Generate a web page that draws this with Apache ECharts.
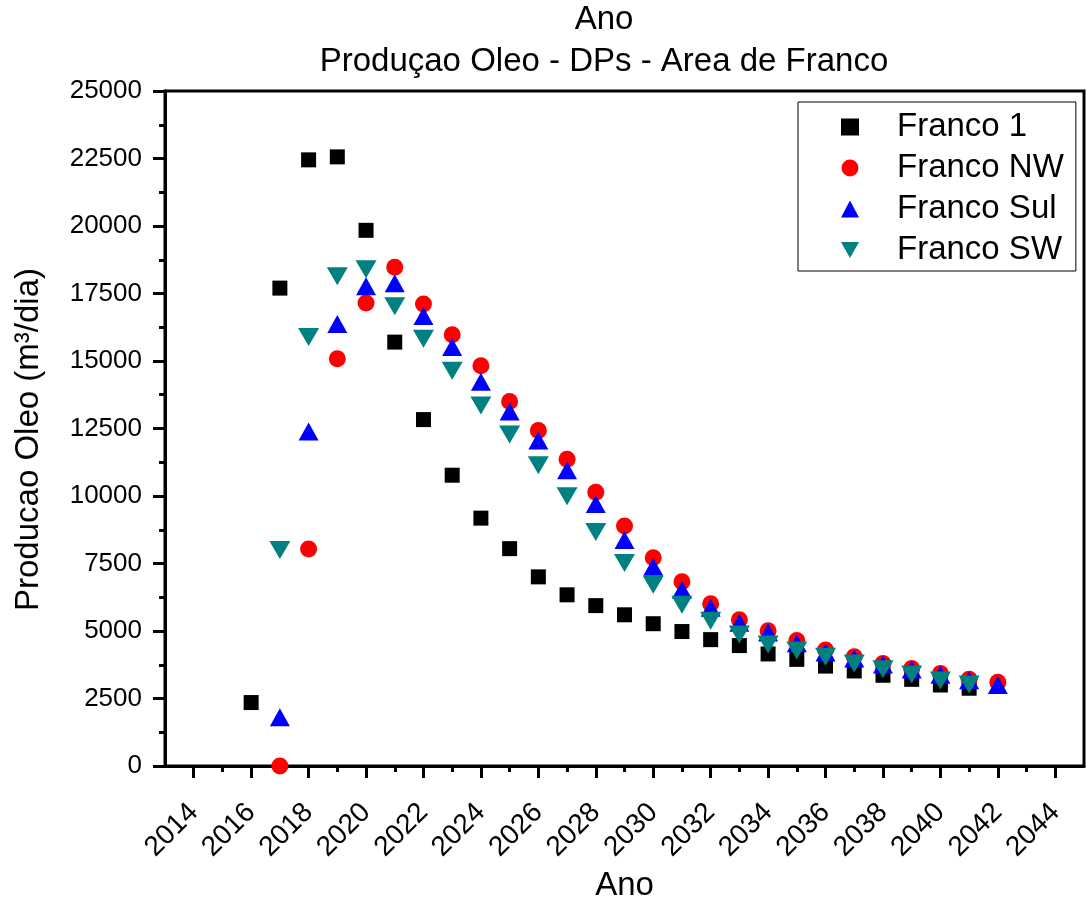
<!DOCTYPE html>
<html>
<head>
<meta charset="utf-8">
<script src="https://cdn.jsdelivr.net/npm/echarts@6/dist/echarts.min.js"></script>
<style>
  html, body { margin: 0; padding: 0; background: #fff; }
  #chart { width: 1086px; height: 907px; }
</style>
</head>
<body>
<div id="chart"></div>
<script>
// Oil production forecast per field (m³/dia)
const yearsFranco1 = [2016, 2017, 2018, 2019, 2020, 2021, 2022, 2023, 2024, 2025, 2026, 2027, 2028,
  2029, 2030, 2031, 2032, 2033, 2034, 2035, 2036, 2037, 2038, 2039, 2040, 2041];
const franco1 = [2350, 17700, 22450, 22560, 19840, 15700, 12830, 10770, 9180, 8050, 7005, 6340, 5940,
  5600, 5270, 4980, 4680, 4460, 4150, 3950, 3700, 3520, 3360, 3210, 3000, 2880];

const yearsNW = [2017, 2018, 2019, 2020, 2021, 2022, 2023, 2024, 2025, 2026, 2027, 2028, 2029,
  2030, 2031, 2032, 2033, 2034, 2035, 2036, 2037, 2038, 2039, 2040, 2041, 2042];
const francoNW = [0, 8040, 15080, 17150, 18470, 17110, 15970, 14820, 13500, 12430, 11360, 10140, 8890,
  7710, 6820, 6010, 5420, 5010, 4650, 4300, 4050, 3800, 3610, 3430, 3210, 3100];

const yearsSul = [2017, 2018, 2019, 2020, 2021, 2022, 2023, 2024, 2025, 2026, 2027, 2028, 2029,
  2030, 2031, 2032, 2033, 2034, 2035, 2036, 2037, 2038, 2039, 2040, 2041, 2042];
const francoSul = [1810, 12390, 16370, 17770, 17880, 16670, 15520, 14230, 13130, 12060, 10950, 9700, 8370,
  7380, 6530, 5860, 5310, 4940, 4550, 4200, 3980, 3760, 3570, 3380, 3180, 3000];

const yearsSW = [2017, 2018, 2019, 2020, 2021, 2022, 2023, 2024, 2025, 2026, 2027, 2028, 2029,
  2030, 2031, 2032, 2033, 2034, 2035, 2036, 2037, 2038, 2039, 2040, 2041];
const francoSW = [8000, 15890, 18140, 18400, 17030, 15820, 14640, 13350, 12280, 11140, 9990, 8670, 7520,
  6710, 5970, 5380, 4870, 4500, 4280, 4050, 3800, 3580, 3390, 3170, 3020];

const majorYearTicks = [2014, 2016, 2018, 2020, 2022, 2024, 2026, 2028, 2030, 2032, 2034, 2036, 2038, 2040, 2042, 2044];
const minorYearTicks = [2015, 2017, 2019, 2021, 2023, 2025, 2027, 2029, 2031, 2033, 2035, 2037, 2039, 2041, 2043];

const pairs = (xs, ys) => xs.map((x, i) => [x, ys[i]]);
const plain = v => String(v);

const FONT = 'Arial, "Liberation Sans", sans-serif';
const DOWN_TRIANGLE = 'path://M0,0L20,0L10,18Z';
const chart = echarts.init(document.getElementById('chart'), null, { renderer: 'canvas' });

chart.setOption({
  animation: false,
  backgroundColor: '#ffffff',
  title: {
    text: 'Ano\nProduçao Oleo - DPs - Area de Franco',
    left: 604,
    top: -1,
    padding: 0,
    textAlign: 'center',
    textStyle: { fontFamily: FONT, fontSize: 33, fontWeight: 'normal', color: '#000', lineHeight: 42 }
  },
  legend: {
    orient: 'vertical',
    left: 798,
    top: 102,
    padding: [7, 12, 3, 43],
    itemWidth: 18,
    itemHeight: 17,
    itemGap: 5,
    borderColor: '#000',
    borderWidth: 1,
    backgroundColor: '#fff',
    textStyle: { fontFamily: FONT, fontSize: 33, color: '#000', lineHeight: 36, padding: [0, 0, 0, 33] },
    data: [
      { name: 'Franco 1', icon: 'rect' },
      { name: 'Franco NW', icon: 'circle' },
      { name: 'Franco Sul', icon: 'triangle' },
      { name: 'Franco SW', icon: DOWN_TRIANGLE }
    ]
  },
  grid: {
    left: 165, right: 2, top: 91, bottom: 137,
    show: true, borderColor: '#000', borderWidth: 3
  },
  xAxis: [{
    type: 'value',
    min: 2013, max: 2045,
    name: 'Ano',
    nameLocation: 'middle',
    nameGap: 103,
    nameTextStyle: { fontFamily: FONT, fontSize: 33, color: '#000' },
    axisLine: { show: true, lineStyle: { color: '#000', width: 3 } },
    axisTick: { show: true, customValues: majorYearTicks, length: 12, lineStyle: { color: '#000', width: 3 } },
    axisLabel: { customValues: majorYearTicks, formatter: plain, rotate: 45, margin: 42, fontFamily: FONT, fontSize: 28, color: '#000' },
    splitLine: { show: false }
  }, {
    type: 'value',
    min: 2013, max: 2045,
    position: 'bottom',
    axisLine: { show: false },
    axisTick: { show: true, customValues: minorYearTicks, length: 6, lineStyle: { color: '#000', width: 3 } },
    axisLabel: { show: false },
    splitLine: { show: false }
  }],
  yAxis: {
    type: 'value',
    min: 0, max: 25000, interval: 2500,
    name: 'Producao Oleo (m³/dia)',
    nameLocation: 'middle',
    nameRotate: 90,
    nameGap: 120,
    nameTextStyle: { fontFamily: FONT, fontSize: 33, color: '#000', padding: [0, 22, 0, 0] },
    axisLine: { show: true, lineStyle: { color: '#000', width: 3 } },
    axisTick: { show: true, length: 12, lineStyle: { color: '#000', width: 3 } },
    minorTick: { show: true, splitNumber: 2, length: 6, lineStyle: { color: '#000', width: 3 } },
    axisLabel: { margin: 23, formatter: plain, fontFamily: FONT, fontSize: 26, color: '#000' },
    splitLine: { show: false },
    minorSplitLine: { show: false }
  },
  series: [{
    name: 'Franco 1', type: 'scatter', symbol: 'rect', symbolSize: 15,
    itemStyle: { color: '#000000', opacity: 1 },
    data: pairs(yearsFranco1, franco1)
  }, {
    name: 'Franco NW', type: 'scatter', symbol: 'circle', symbolSize: 17,
    itemStyle: { color: '#ff0000', opacity: 1 },
    data: pairs(yearsNW, francoNW)
  }, {
    name: 'Franco Sul', type: 'scatter', symbol: 'triangle', symbolSize: [20, 18],
    itemStyle: { color: '#0000ff', opacity: 1 },
    data: pairs(yearsSul, francoSul)
  }, {
    name: 'Franco SW', type: 'scatter', symbol: 'triangle', symbolRotate: 180, symbolSize: [21, 18],
    itemStyle: { color: '#008080', opacity: 1 },
    data: pairs(yearsSW, francoSW)
  }]
});
</script>
</body>
</html>
